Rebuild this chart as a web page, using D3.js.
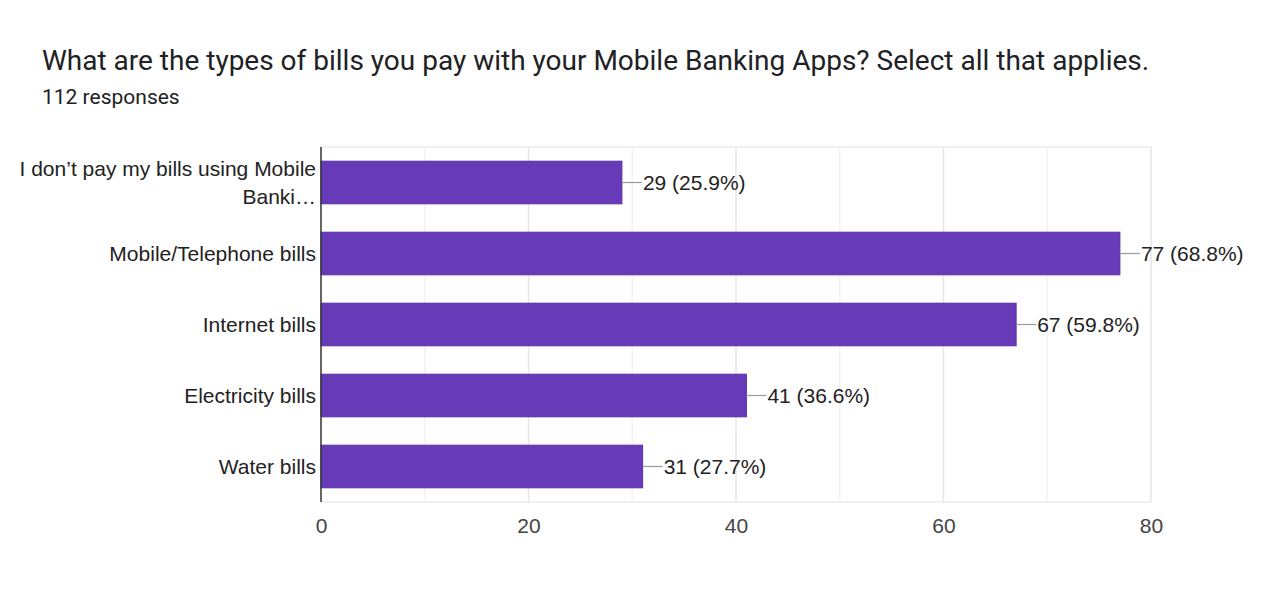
<!DOCTYPE html>
<html>
<head>
<meta charset="utf-8">
<script src="https://cdn.jsdelivr.net/npm/d3@7"></script>
<style>
  body { margin: 0; background: #fff; }
  svg { display: block; }
</style>
</head>
<body>
<svg id="chart"></svg>
<script>
// chart data
const categories = ["I don’t pay my bills using Mobile Banki…", "Mobile/Telephone bills", "Internet bills", "Electricity bills", "Water bills"];
const counts = [29, 77, 67, 41, 31];
const percents = ["25.9%", "68.8%", "59.8%", "36.6%", "27.7%"];
const tickValues = [0, 20, 40, 60, 80];

const width = 1280, height = 608;
const margin = {top: 147, right: 129, bottom: 106, left: 321};
const labelFont = "Arial, 'Liberation Sans', sans-serif";

const svg = d3.select("#chart")
    .attr("width", width)
    .attr("height", height);

svg.append("text")
    .attr("x", 42)
    .attr("y", 70)
    .attr("font-family", "Roboto, 'Open Sans', sans-serif")
    .attr("font-size", "28px")
    .attr("fill", "#202124")
    .text("What are the types of bills you pay with your Mobile Banking Apps? Select all that applies.");

svg.append("text")
    .attr("x", 42)
    .attr("y", 104)
    .attr("font-family", "Roboto, 'Open Sans', sans-serif")
    .attr("font-size", "21px")
    .attr("fill", "#202124")
    .text("112 responses");

const x = d3.scaleLinear()
    .domain([0, 80])
    .range([margin.left, width - margin.right]);

const y = d3.scaleBand()
    .domain(categories)
    .range([margin.top, height - margin.bottom])
    .paddingInner(0.4)
    .paddingOuter(0.2);

// gridlines every 10
const g = svg.append("g");
g.selectAll("line.grid")
    .data(d3.range(10, 81, 10))
    .enter().append("line")
    .attr("class", "grid")
    .attr("x1", d => x(d)).attr("x2", d => x(d))
    .attr("y1", margin.top).attr("y2", height - margin.bottom)
    .attr("stroke", d => d % 20 === 0 ? "#e6e6e6" : "#f2f2f2")
    .attr("stroke-width", 1.5);

g.append("line")
    .attr("x1", margin.left).attr("x2", width - margin.right)
    .attr("y1", margin.top).attr("y2", margin.top)
    .attr("stroke", "#ebebeb").attr("stroke-width", 1.5);
g.append("line")
    .attr("x1", margin.left).attr("x2", width - margin.right)
    .attr("y1", height - margin.bottom).attr("y2", height - margin.bottom)
    .attr("stroke", "#ebebeb").attr("stroke-width", 1.5);

// bars
const rows = categories.map((c, i) => ({cat: c, value: counts[i], pct: percents[i]}));

svg.selectAll("rect.bar")
    .data(rows)
    .enter().append("rect")
    .attr("class", "bar")
    .attr("x", x(0))
    .attr("y", d => y(d.cat))
    .attr("width", d => x(d.value) - x(0))
    .attr("height", y.bandwidth())
    .attr("fill", "#673ab7")
    .attr("stroke", "#5a2ea8")
    .attr("stroke-width", 1);

// leader lines + value labels
svg.selectAll("line.leader")
    .data(rows)
    .enter().append("line")
    .attr("x1", d => x(d.value))
    .attr("x2", d => x(d.value) + 20)
    .attr("y1", d => y(d.cat) + y.bandwidth() / 2)
    .attr("y2", d => y(d.cat) + y.bandwidth() / 2)
    .attr("stroke", "#999")
    .attr("stroke-width", 1.2);

svg.selectAll("text.value")
    .data(rows)
    .enter().append("text")
    .attr("x", d => x(d.value) + 21)
    .attr("y", d => y(d.cat) + y.bandwidth() / 2)
    .attr("dy", "0.35em")
    .attr("font-family", labelFont)
    .attr("font-size", "21px")
    .attr("fill", "#222")
    .text(d => `${d.value} (${d.pct})`);

// left axis line
svg.append("line")
    .attr("x1", margin.left).attr("x2", margin.left)
    .attr("y1", margin.top).attr("y2", height - margin.bottom)
    .attr("stroke", "#333").attr("stroke-width", 1.5);

// category labels, wrapped to two lines
function wrap(textSel, maxW) {
    textSel.each(function () {
        const text = d3.select(this);
        const words = text.text().split(" ");
        const yc = +text.attr("y");
        text.text(null);
        const lines = [];
        let line = [];
        let probe = text.append("tspan");
        words.forEach(w => {
            line.push(w);
            probe.text(line.join(" "));
            if (probe.node().getComputedTextLength() > maxW && line.length > 1) {
                line.pop();
                lines.push(line.join(" "));
                line = [w];
            }
        });
        lines.push(line.join(" "));
        probe.remove();
        const lh = 28;
        lines.forEach((l, i) => {
            text.append("tspan")
                .attr("x", text.attr("x"))
                .attr("y", yc + (i - (lines.length - 1) / 2) * lh)
                .attr("dy", "0.35em")
                .text(l);
        });
    });
}

svg.selectAll("text.cat")
    .data(rows)
    .enter().append("text")
    .attr("class", "cat")
    .attr("x", margin.left - 5)
    .attr("y", d => y(d.cat) + y.bandwidth() / 2)
    .attr("text-anchor", "end")
    .attr("font-family", labelFont)
    .attr("font-size", "21px")
    .attr("fill", "#222")
    .text(d => d.cat)
    .call(wrap, 305);

// x axis
const xAxis = svg.append("g")
    .attr("transform", `translate(0, ${height - margin.bottom})`)
    .call(d3.axisBottom(x).tickValues(tickValues).tickSize(0).tickPadding(16));
xAxis.select(".domain").remove();
xAxis.selectAll("text")
    .attr("font-family", labelFont)
    .attr("font-size", "21px")
    .attr("fill", "#444");
</script>
</body>
</html>
